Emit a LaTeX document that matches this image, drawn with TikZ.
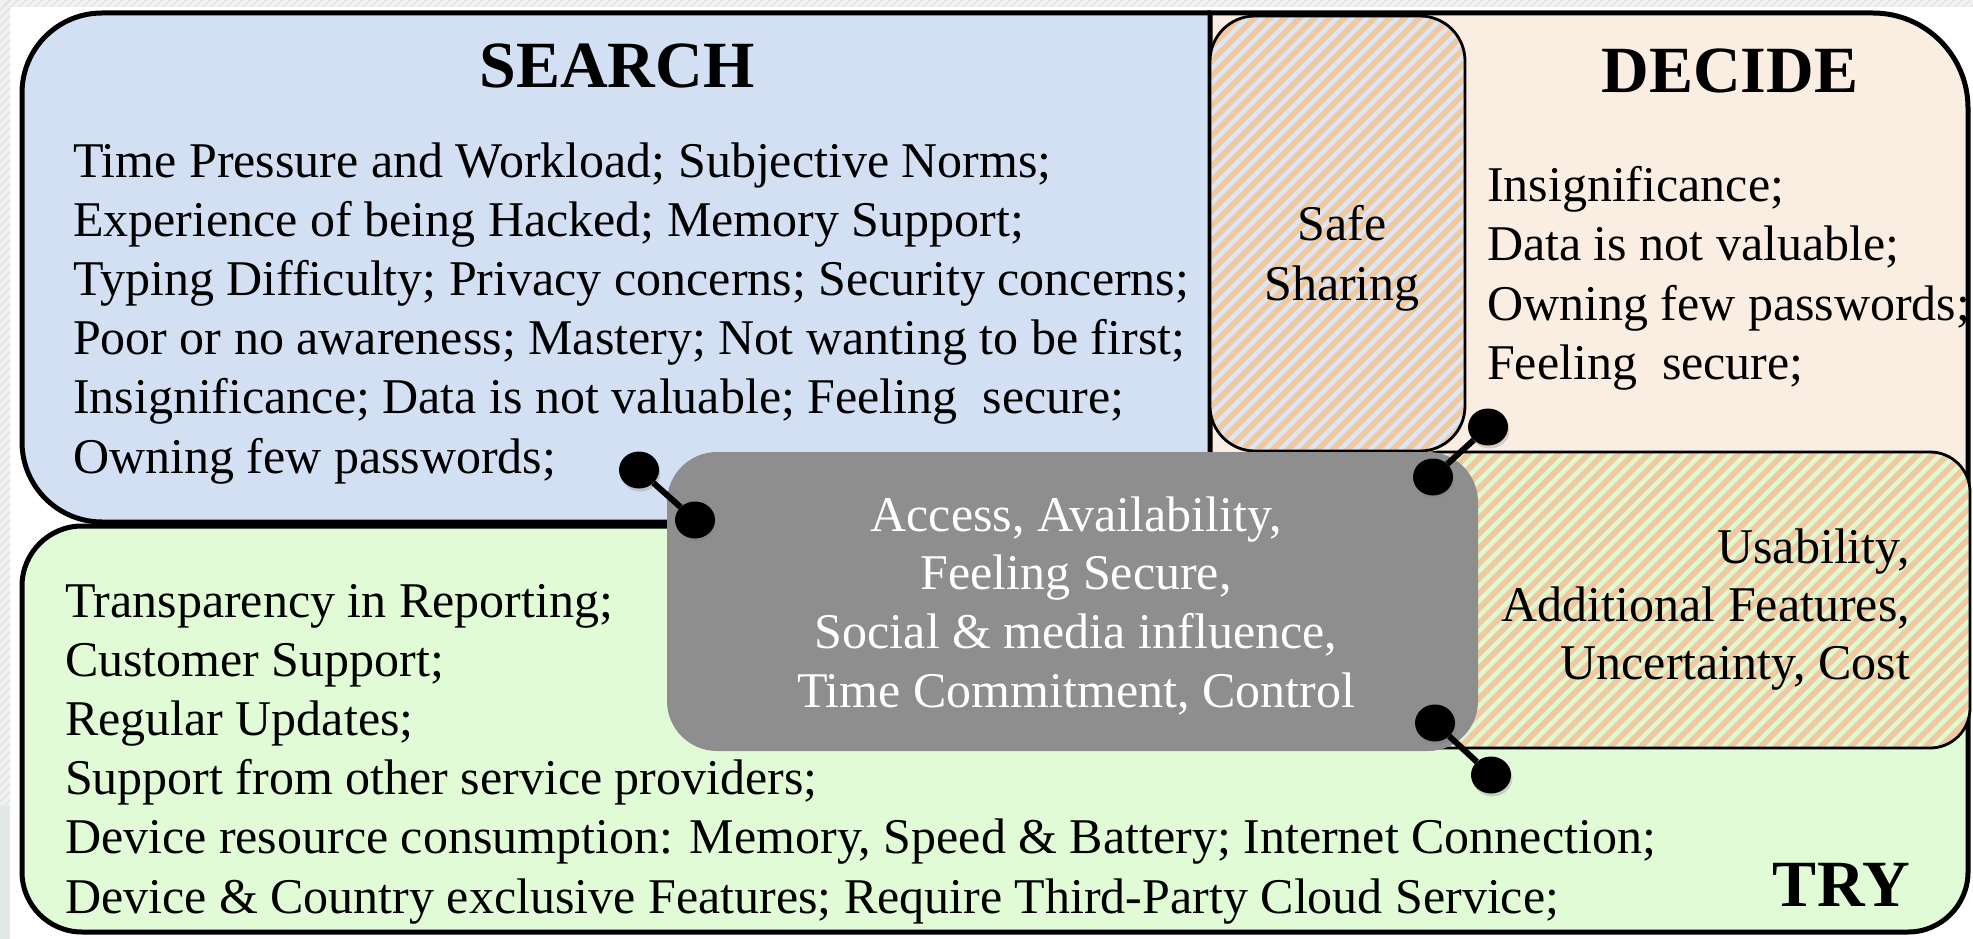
\documentclass[tikz,border=0pt]{standalone}
\usepackage{fontspec}
\setmainfont{Liberation Serif}
\usetikzlibrary{shapes.geometric,shadows}
\definecolor{searchblue}{HTML}{D3DFF3}
\definecolor{decidepeach}{HTML}{FAEDE2}
\definecolor{trygreen}{HTML}{E0FBD6}
\definecolor{coregray}{HTML}{8E8E8E}
\definecolor{stripeorange}{HTML}{F0C9A0}
\definecolor{stripeblue}{HTML}{DCE6F4}
\definecolor{stripegreen}{HTML}{DFFAD2}
\definecolor{bgstrip}{HTML}{F2F2F2}
\definecolor{bgline}{HTML}{E4E4E4}
\definecolor{bgcorner}{HTML}{E3E9E9}
\begin{document}
\begin{tikzpicture}[x=1pt,y=-1pt,
  bigbox/.style={draw=black, line width=5pt, line join=round},
  subbox/.style={draw=black, line width=2.8pt},
  bodytext/.style={font=\fontsize{50}{60}\selectfont, inner sep=0pt, outer sep=0pt},
  headtext/.style={font=\fontsize{66}{79}\selectfont\bfseries, inner sep=0pt, outer sep=0pt},
  dotnode/.style={shape=ellipse, fill=black, minimum width=40pt, minimum height=37pt, inner sep=0pt,
    drop shadow={shadow xshift=1.5pt, shadow yshift=-3pt, opacity=0.3}},
  link/.style={draw=black, line width=6pt}]
\useasboundingbox (0,0) rectangle (1973,939);
% page background
\fill[white] (0,0) rectangle (1973,939);
\begin{scope}
  \clip (0,0) rectangle (1973,7) (0,0) rectangle (10,805);
  \fill[bgstrip] (0,0) rectangle (1973,805);
  \foreach \s in {0,8,...,1990} \draw[bgline, line width=1.5pt] (\s-10,815) -- ++(-10,-10) (\s,10) -- ++(12,-12);
  \foreach \s in {0,8,...,820} \draw[bgline, line width=1.5pt] (-2,\s+12) -- ++(14,-14);
\end{scope}
\fill[bgcorner] (0,805) rectangle (10,939);
% DECIDE region
\draw[bigbox, fill=decidepeach] (1208,650) -- (1208,13) -- (1873,13)
  arc[start angle=270, end angle=360, radius=95] -- (1968,650) -- cycle;
% SEARCH region
\draw[bigbox, fill=searchblue] (1210,522) -- (1210,13) -- (102,13)
  arc[start angle=270, end angle=180, radius=80] -- (22,442)
  arc[start angle=180, end angle=90, radius=80] -- cycle;
% TRY region
\draw[bigbox, fill=trygreen, rounded corners=60pt] (22,526) rectangle (1968,932);
% Safe Sharing overlap
\begin{scope}
  \clip[rounded corners=45pt] (1210,16) rectangle (1465,451);
  \fill[stripeorange] (1200,0) rectangle (1480,460);
  \foreach \s in {760,775,...,1480} \draw[stripeblue, line width=4.4pt] (\s,460) -- ++(450,-450);
\end{scope}
\draw[subbox, rounded corners=45pt] (1210,16) rectangle (1465,451);
% Decide/Try overlap
\begin{scope}
  \clip[rounded corners=40pt] (1400,452) rectangle (1970,748);
  \fill[stripeorange] (1390,440) rectangle (1980,760);
  \foreach \s in {1080,1095,...,1990} \draw[stripegreen, line width=4.4pt] (\s,760) -- ++(320,-320);
\end{scope}
\draw[subbox, rounded corners=40pt] (1400,452) rectangle (1970,748);
% core
\node[fill=coregray, rounded corners=50pt, minimum width=811pt, minimum height=299pt, inner sep=0pt] (core) at (1072.5,601.5) {};
% connectors
\node[dotnode] (d1a) at (639,470) {};
\node[dotnode] (d1b) at (695,520) {};
\draw[link] (d1a) -- (d1b);
\node[dotnode] (d2a) at (1488,427) {};
\node[dotnode] (d2b) at (1433,477) {};
\draw[link] (d2a) -- (d2b);
\node[dotnode] (d3a) at (1435,723) {};
\node[dotnode] (d3b) at (1491,775) {};
\draw[link] (d3a) -- (d3b);
% titles
\node[headtext, anchor=base] (searchT) at (617,88) {SEARCH};
\node[headtext, anchor=base] (decideT) at (1730,93) {DECIDE};
\node[headtext, anchor=base east] (tryT) at (1910,906) {TRY};
% SEARCH text
\foreach \t [count=\i] in {
  {Time Pressure and Workload; Subjective Norms;},
  {Experience of being Hacked; Memory Support;},
  {Typing Difficulty; Privacy concerns; Security concerns;},
  {Poor or no awareness; Mastery; Not wanting to be first;},
  {Insignificance; Data is not valuable; Feeling~~secure;},
  {Owning few passwords;}}
  \node[bodytext, anchor=base west] (s\i) at (73,{177+59.2*(\i-1)}) {\t};
% DECIDE text
\foreach \t [count=\i] in {
  {Insignificance;},
  {Data is not valuable;},
  {Owning few passwords;},
  {Feeling~~secure;}}
  \node[bodytext, anchor=base west] (dd\i) at (1487,{201+59.5*(\i-1)}) {\t};
% Safe Sharing
\node[bodytext, anchor=base] (ss1) at (1342,240) {Safe};
\node[bodytext, anchor=base] (ss2) at (1342,300) {Sharing};
% core text
\foreach \t [count=\i] in {
  {Access, Availability,},
  {Feeling Secure,},
  {Social \& media influence,},
  {Time Commitment, Control}}
  \node[bodytext, text=white, anchor=base] (c\i) at (1076,{531+58.7*(\i-1)}) {\t};
% Decide/Try overlap text
\foreach \t [count=\i] in {
  {Usability,},
  {Additional Features,},
  {Uncertainty, Cost}}
  \node[bodytext, anchor=base east] (u\i) at (1910,{563+58*(\i-1)}) {\t};
% TRY text
\foreach \t [count=\i] in {
  {Transparency in Reporting;},
  {Customer Support;},
  {Regular Updates;},
  {Support from other service providers;},
  {Device resource consumption: Memory, Speed \& Battery; Internet Connection;},
  {Device \& Country exclusive Features; Require Third-Party Cloud Service;}}
  \node[bodytext, anchor=base west] (t\i) at (65,{617+59.2*(\i-1)}) {\t};
\end{tikzpicture}
\end{document}
